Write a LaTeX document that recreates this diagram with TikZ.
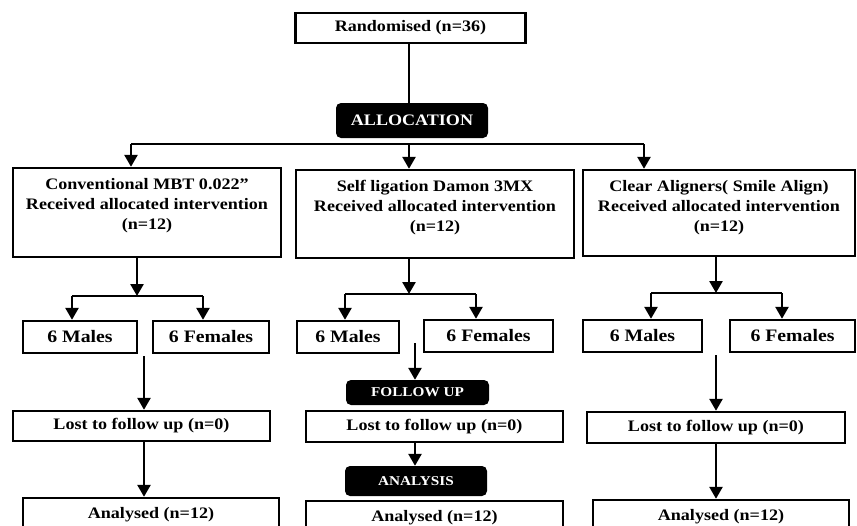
\documentclass[tikz,border=0pt]{standalone}
\usepackage{fontspec}
\setmainfont{Liberation Serif}[FakeStretch=1.13]
\usetikzlibrary{arrows.meta}

\begin{document}
\begin{tikzpicture}[x=1pt,y=-1pt,
  font=\fontsize{16}{20}\selectfont\bfseries,
  box/.style={draw,line width=2.4pt,inner sep=0pt},
  tag/.style={fill=black,text=white,rounded corners=5pt,inner sep=0pt},
  arr/.style={line width=2.6pt,-{Triangle[width=13pt,length=12pt]}},
  bar/.style={line width=2.6pt}]
\clip (0,0) rectangle (857,525);

% top of the chart
\node[box,minimum width=230,minimum height=30] (rand) at (410.5,28) {Randomised (n=36)};
\node[tag,minimum width=152,minimum height=35] (alloc) at (412,120.5) {ALLOCATION};
\draw[bar] (rand.south -| 409,0) -- (409,0 |- alloc.north);

% the three groups
\node[box,minimum width=268,minimum height=89] (g1) at (147,212.5) {};
\node[box,minimum width=278,minimum height=88] (g2) at (435,214) {};
\node[box,minimum width=272,minimum height=86] (g3) at (719,213) {};
\node[align=center] (t1) at (147,206) {Conventional MBT 0.022''\\Received allocated intervention\\(n=12)};
\node[align=center] (t2) at (435,208) {Self ligation Damon 3MX\\Received allocated intervention\\(n=12)};
\node[align=center] (t3) at (719,208) {Clear Aligners( Smile Align)\\Received allocated intervention\\(n=12)};

\coordinate (bl) at (131,144);
\coordinate (br) at (644,144);
\draw[bar] (bl) -- (br);
\draw[arr] (bl) -- (bl |- g1.north);
\draw[arr] (409,0 |- bl) -- (409,0 |- g2.north);
\draw[arr] (br) -- (br |- g3.north);

% males and females
\tikzset{every node/.append style={font=\fontsize{17.5}{20}\selectfont\bfseries}}
\node[box,minimum width=114,minimum height=32] (g1-m) at (80,337) {6 Males};
\node[box,minimum width=116,minimum height=32] (g1-f) at (211,337) {6 Females};
\node[box,minimum width=102,minimum height=32] (g2-m) at (348,337) {6 Males};
\node[box,minimum width=129,minimum height=32] (g2-f) at (488.5,336) {6 Females};
\node[box,minimum width=119,minimum height=32] (g3-m) at (642.5,336) {6 Males};
\node[box,minimum width=125,minimum height=32] (g3-f) at (792.5,336) {6 Females};

\foreach \g/\x/\y/\l/\r in {g1/137/296/72/203, g2/409/294/345/476, g3/716/293/651/782}{
  \coordinate (\g-s) at (\x,\y);
  \coordinate (\g-l) at (\l,\y);
  \coordinate (\g-r) at (\r,\y);
  \draw[arr] (\g-s |- \g.south) -- (\g-s);
  \draw[bar] (\g-l) -- (\g-r);
  \draw[arr] (\g-l) -- (\g-l |- \g-m.north);
  \draw[arr] (\g-r) -- (\g-r |- \g-f.north);
}

% follow up and analysis
\tikzset{every node/.append style={font=\fontsize{16}{20}\selectfont\bfseries}}
\node[box,minimum width=257,minimum height=30] (l1) at (141.5,426) {Lost to follow up (n=0)};
\node[box,minimum width=257,minimum height=31] (l2) at (434.5,426.5) {Lost to follow up (n=0)};
\node[box,minimum width=258,minimum height=31] (l3) at (716,427.5) {Lost to follow up (n=0)};
\node[box,minimum width=256,minimum height=34] (a1) at (151,515) {Analysed (n=12)};
\node[box,minimum width=257,minimum height=34] (a2) at (434.5,518) {Analysed (n=12)};
\node[box,minimum width=256,minimum height=34] (a3) at (721,517) {Analysed (n=12)};
\node[tag,minimum width=143,minimum height=25,font=\fontsize{13.5}{15}\selectfont\bfseries] (fu) at (417.5,392.5) {FOLLOW UP};
\node[tag,minimum width=142,minimum height=30,font=\fontsize{13.5}{15}\selectfont\bfseries] (an) at (416,481) {ANALYSIS};

\coordinate (d1) at (144,356);
\coordinate (d2) at (415,343);
\coordinate (d3) at (716,355);
\draw[arr] (d1) -- (d1 |- l1.north);
\draw[arr] (l1.south -| d1) -- (d1 |- a1.north);
\draw[arr] (d2) -- (d2 |- fu.north);
\draw[arr] (l2.south -| d2) -- (d2 |- an.north);
\draw[arr] (d3) -- (d3 |- l3.north);
\draw[arr] (l3.south -| d3) -- (d3 |- a3.north);
\end{tikzpicture}
\end{document}
